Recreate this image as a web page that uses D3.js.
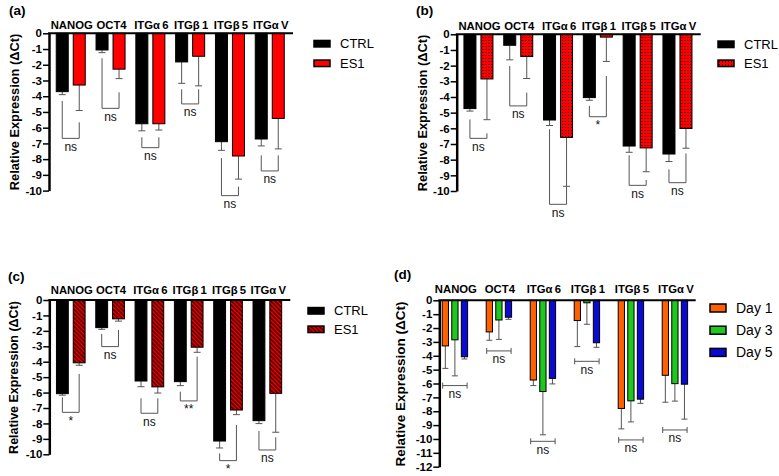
<!DOCTYPE html>
<html>
<head>
<meta charset="utf-8">
<script src="https://cdn.jsdelivr.net/npm/d3@7"></script>
<style>
  body { margin: 0; background: #fff; }
  svg { display: block; }
  text { font-family: "Liberation Sans", Arial, sans-serif; }
</style>
</head>
<body>
<svg id="chart" width="779" height="476"></svg>
<script>
(function () {
  'use strict';

  // genes along the top axis (thin space where the symbol font leaves a gap)
  var genes = ['NANOG', 'OCT4', 'ITG\u03b1\u20096', 'ITG\u03b2\u20091', 'ITG\u03b2\u20095', 'ITG\u03b1\u2009V'];

  var ticks10 = [0, -1, -2, -3, -4, -5, -6, -7, -8, -9, -10];
  var ticks12 = [0, -1, -2, -3, -4, -5, -6, -7, -8, -9, -10, -11, -12];

  // mean dCt and SD (error bars only drawn downward)
  var ctrlA = [-3.71, -1.06, -5.75, -1.82, -6.89, -6.72];
  var ctrlAErr = [0.19, 0.17, 0.45, 1.36, 0.55, 0.44];
  var ctrlB = [-4.74, -0.70, -5.47, -4.04, -7.13, -7.64];
  var ctrlBErr = [0.16, 0.93, 0.35, 0.17, 0.40, 0.48];
  var ctrlC = [-6.07, -1.79, -5.25, -5.29, -9.14, -7.82];
  var ctrlCErr = [0.10, 0.11, 0.37, 0.26, 0.45, 0.19];

  // ES1 at day 1 / 3 / 5 (same values reused in panel d)
  var day1 = [-3.29, -2.28, -5.75, -1.46, -7.80, -5.41];
  var day1Err = [1.62, 0.60, 0.40, 1.88, 1.47, 1.94];
  var day3 = [-2.85, -1.42, -6.58, -0.18, -7.25, -6.01];
  var day3Err = [2.60, 1.40, 3.12, 1.55, 1.52, 1.26];
  var day5 = [-4.07, -1.22, -5.63, -3.06, -7.13, -6.05];
  var day5Err = [0.16, 0.15, 0.40, 0.33, 0.30, 2.52];

  // significance brackets: [left leg top, right leg top, bottom] in dCt units
  var bracketsA = [[-4.3, -5.66, -6.68], [-1.59, -3.75, -4.77], [-6.61, -6.61, -7.27],
                   [-3.56, -3.56, -4.49], [-7.93, -9.75, -10.32], [-7.76, -7.76, -8.75]];
  var sigA = ['ns', 'ns', 'ns', 'ns', 'ns', 'ns'];
  var bracketsB = [[-5.43, -6.32, -6.64], [-2.02, -3.72, -4.57], [-6.06, -9.72, -10.85],
                   [-4.57, -2.66, -5.26], [-7.72, -9.3, -9.64], [-8.62, -7.6, -9.47]];
  var sigB = ['ns', 'ns', 'ns', '*', 'ns', 'ns'];
  var bracketsC = [[-6.31, -4.79, -7.28], [-2.2, -1.94, -3.02], [-6.37, -6.37, -7.34],
                   [-5.94, -3.67, -6.54], [-9.94, -8.1, -10.41], [-8.49, -8.9, -9.72]];
  var sigC = ['*', 'ns', 'ns', '**', '*', 'ns'];
  var bracketsD = [-6.15, -3.65, -10.17, -4.4, -10.07, -9.35];
  var sigD = ['ns', 'ns', 'ns', 'ns', 'ns', 'ns'];

  var svg = d3.select('#chart');
  svg.append('rect').attr('width', 779).attr('height', 476).attr('fill', '#fff');

  var defs = svg.append('defs');
  var dots = defs.append('pattern')
      .attr('id', 'dots')
      .attr('patternUnits', 'userSpaceOnUse')
      .attr('width', 3).attr('height', 3);
  dots.append('rect').attr('width', 3).attr('height', 3).attr('fill', '#f00');
  dots.append('rect').attr('x', 1).attr('y', 1).attr('width', 1).attr('height', 1).attr('fill', '#000');

  var hatch = defs.append('pattern')
      .attr('id', 'hatch')
      .attr('patternUnits', 'userSpaceOnUse')
      .attr('width', 3).attr('height', 3)
      .attr('patternTransform', 'rotate(-45)');
  hatch.append('rect').attr('width', 3).attr('height', 3).attr('fill', '#f00');
  hatch.append('line').attr('x1', 1).attr('x2', 1).attr('y1', 0).attr('y2', 3)
      .attr('stroke', '#000').attr('stroke-width', 1.2);

  function drawPanel (p) {
    var g = svg.append('g');

    var y = d3.scaleLinear()
        .domain([0, p.ticks[p.ticks.length - 1]])
        .range([p.y0, p.yEnd]);

    var x0 = d3.scaleBand()
        .domain(genes)
        .range([p.axisX, p.axisX + p.axisLen])
        .paddingInner(p.padInner)
        .paddingOuter(p.padOuter)
        .align(p.align);

    var x1 = d3.scaleBand()
        .domain(p.series.map(function (s) { return s.name; }))
        .range([0, x0.bandwidth()])
        .paddingInner(p.subPad);

    var rows = genes.map(function (gene, i) {
      return {
        gene: gene,
        i: i,
        bars: p.series.map(function (s) {
          return { name: s.name, v: s.values[i], e: s.errs[i], fill: s.fill };
        })
      };
    });

    var groups = g.selectAll('g.gene')
        .data(rows)
        .enter()
        .append('g')
        .attr('class', 'gene')
        .attr('transform', function (d) { return 'translate(' + x0(d.gene) + ',0)'; });

    // error bars first so the bar outline sits on top
    var err = groups.selectAll('g.err')
        .data(function (d) { return d.bars; })
        .enter()
        .append('g')
        .attr('class', 'err')
        .attr('stroke', '#555')
        .attr('stroke-width', 1);
    err.append('line')
        .attr('x1', function (d) { return x1(d.name) + x1.bandwidth() / 2; })
        .attr('x2', function (d) { return x1(d.name) + x1.bandwidth() / 2; })
        .attr('y1', function (d) { return y(d.v); })
        .attr('y2', function (d) { return y(d.v - d.e); });
    err.append('line')
        .attr('x1', function (d) { return x1(d.name) + x1.bandwidth() / 2 - p.cap; })
        .attr('x2', function (d) { return x1(d.name) + x1.bandwidth() / 2 + p.cap; })
        .attr('y1', function (d) { return y(d.v - d.e); })
        .attr('y2', function (d) { return y(d.v - d.e); });

    groups.selectAll('rect')
        .data(function (d) { return d.bars; })
        .enter()
        .append('rect')
        .attr('x', function (d) { return x1(d.name) + 0.5; })
        .attr('y', y(0))
        .attr('width', x1.bandwidth() - 1)
        .attr('height', function (d) { return y(d.v) - y(0); })
        .attr('fill', function (d) { return d.fill; })
        .attr('stroke', '#000')
        .attr('stroke-width', 1);

    // significance brackets
    var br = g.append('g').attr('fill', 'none').attr('stroke', '#555').attr('stroke-width', 1);
    var lab = g.append('g').attr('font-size', 12).attr('text-anchor', 'middle').attr('fill', '#111');
    rows.forEach(function (d) {
      var left, right, bottom;
      if (p.span) {
        left = x0(d.gene) + 1;
        right = x0(d.gene) + x0.bandwidth() - 1;
        bottom = y(p.brackets[d.i]);
        br.append('path')
            .attr('d', 'M' + left + ',' + (bottom - 3) + 'V' + (bottom + 3) +
                  'M' + left + ',' + bottom + 'H' + right +
                  'M' + right + ',' + (bottom - 3) + 'V' + (bottom + 3));
      } else {
        var b = p.brackets[d.i];
        left = x0(d.gene) + x1(p.series[0].name) + x1.bandwidth() / 2;
        right = x0(d.gene) + x1(p.series[1].name) + x1.bandwidth() / 2;
        bottom = y(b[2]);
        br.append('path')
            .attr('d', 'M' + left + ',' + y(b[0]) + 'V' + bottom + 'H' + right + 'V' + y(b[1]));
      }
      lab.append('text')
          .attr('x', (left + right) / 2)
          .attr('y', bottom + 12.5)
          .text(p.sig[d.i]);
    });

    // y axis (values are negative, 0 at top)
    var ax = g.append('g')
        .attr('transform', 'translate(' + p.axisX + ',0)')
        .call(d3.axisLeft(y)
          .tickValues(p.ticks)
          .tickSize(6)
          .tickSizeOuter(0)
          .tickPadding(1)
          .tickFormat(function (d) { return String(d); }));
    ax.select('.domain').attr('stroke-width', 2.5);
    ax.selectAll('.tick line').attr('stroke-width', 1.5);
    ax.selectAll('.tick text')
        .attr('font-family', '"Liberation Serif", "Times New Roman", serif')
        .attr('font-weight', 'bold')
        .attr('font-size', 11.5)
        .attr('fill', '#000');

    // top axis line
    g.append('line')
        .attr('x1', p.axisX - 1).attr('x2', p.axisX + p.axisLen)
        .attr('y1', y(0)).attr('y2', y(0))
        .attr('stroke', '#000').attr('stroke-width', 2);

    // gene names above the axis
    g.append('g')
        .attr('font-size', 11.3)
        .attr('font-weight', 'bold')
        .attr('text-anchor', 'middle')
        .selectAll('text')
        .data(genes)
        .enter()
        .append('text')
        .attr('x', function (d) { return x0(d) + x0.bandwidth() / 2 + 1; })
        .attr('y', y(0) - p.geneGap)
        .text(function (d) { return d; });

    // y title
    g.append('text')
        .attr('transform', 'translate(' + p.titleX + ',' + p.titleY + ') rotate(-90)')
        .attr('text-anchor', 'middle')
        .attr('dominant-baseline', 'central')
        .attr('font-weight', 'bold')
        .attr('font-size', p.titleSize)
        .text('Relative Expression (\u0394Ct)');

    // panel letter
    g.append('text')
        .attr('x', p.lx).attr('y', p.ly)
        .attr('font-weight', 'bold')
        .attr('font-size', 13.5)
        .text(p.letter);

    // legend
    var leg = g.selectAll('g.leg')
        .data(p.series)
        .enter()
        .append('g')
        .attr('class', 'leg')
        .attr('transform', function (d, i) {
          return 'translate(' + p.legX + ',' + (p.legY + i * p.legDy) + ')';
        });
    leg.append('rect')
        .attr('x', 0).attr('y', -p.legH / 2)
        .attr('width', 16).attr('height', p.legH)
        .attr('fill', function (d) { return d.fill; })
        .attr('stroke', '#000').attr('stroke-width', 1.5);
    leg.append('text')
        .attr('x', 26)
        .attr('dy', '0.36em')
        .attr('font-size', p.legSize)
        .text(function (d) { return d.name; });
  }

  var pairLayout = { padInner: 0.246, padOuter: 0.188, align: 0.45, subPad: 0.235, cap: 3.5 };

  drawPanel(Object.assign({
    letter: '(a)', lx: 9, ly: 15,
    axisX: 49, y0: 33.3, yEnd: 190.6, axisLen: 244, ticks: ticks10,
    series: [
      { name: 'CTRL', values: ctrlA, errs: ctrlAErr, fill: '#000' },
      { name: 'ES1', values: day1, errs: day1Err, fill: '#f00' }
    ],
    brackets: bracketsA, sig: sigA, geneGap: 4.5,
    titleX: 14, titleY: 112, titleSize: 12.8,
    legX: 314, legY: 43.7, legDy: 19.6, legH: 6.5, legSize: 13
  }, pairLayout));

  drawPanel(Object.assign({
    letter: '(b)', lx: 416, ly: 15,
    axisX: 456.7, y0: 34.3, yEnd: 191, axisLen: 244, ticks: ticks10,
    series: [
      { name: 'CTRL', values: ctrlB, errs: ctrlBErr, fill: '#000' },
      { name: 'ES1', values: day3, errs: day3Err, fill: 'url(#dots)' }
    ],
    brackets: bracketsB, sig: sigB, geneGap: 4.5,
    titleX: 422, titleY: 113, titleSize: 12.8,
    legX: 718, legY: 44.3, legDy: 19, legH: 6.5, legSize: 13
  }, pairLayout));

  drawPanel(Object.assign({
    letter: '(c)', lx: 8, ly: 281,
    axisX: 49.3, y0: 300, yEnd: 454.3, axisLen: 241, ticks: ticks10,
    series: [
      { name: 'CTRL', values: ctrlC, errs: ctrlCErr, fill: '#000' },
      { name: 'ES1', values: day5, errs: day5Err, fill: 'url(#hatch)' }
    ],
    brackets: bracketsC, sig: sigC, geneGap: 6.2,
    titleX: 13.5, titleY: 377.5, titleSize: 12.5,
    legX: 308, legY: 310.8, legDy: 18.5, legH: 6.5, legSize: 13
  }, pairLayout));

  drawPanel({
    letter: '(d)', lx: 394, ly: 278.5,
    axisX: 439.3, y0: 300.3, yEnd: 466.7, axisLen: 256.4, ticks: ticks12,
    padInner: 0.4, padOuter: 0.1136, align: 0.24, subPad: 0.24, cap: 3,
    series: [
      { name: 'Day 1', values: day1, errs: day1Err, fill: '#ff6000' },
      { name: 'Day 3', values: day3, errs: day3Err, fill: '#1ec81e' },
      { name: 'Day 5', values: day5, errs: day5Err, fill: '#0a0ad2' }
    ],
    brackets: bracketsD, sig: sigD, span: true, geneGap: 7,
    titleX: 400.5, titleY: 384, titleSize: 13.5,
    legX: 710, legY: 308, legDy: 22.2, legH: 8, legSize: 14
  });
} ());
</script>
</body>
</html>
